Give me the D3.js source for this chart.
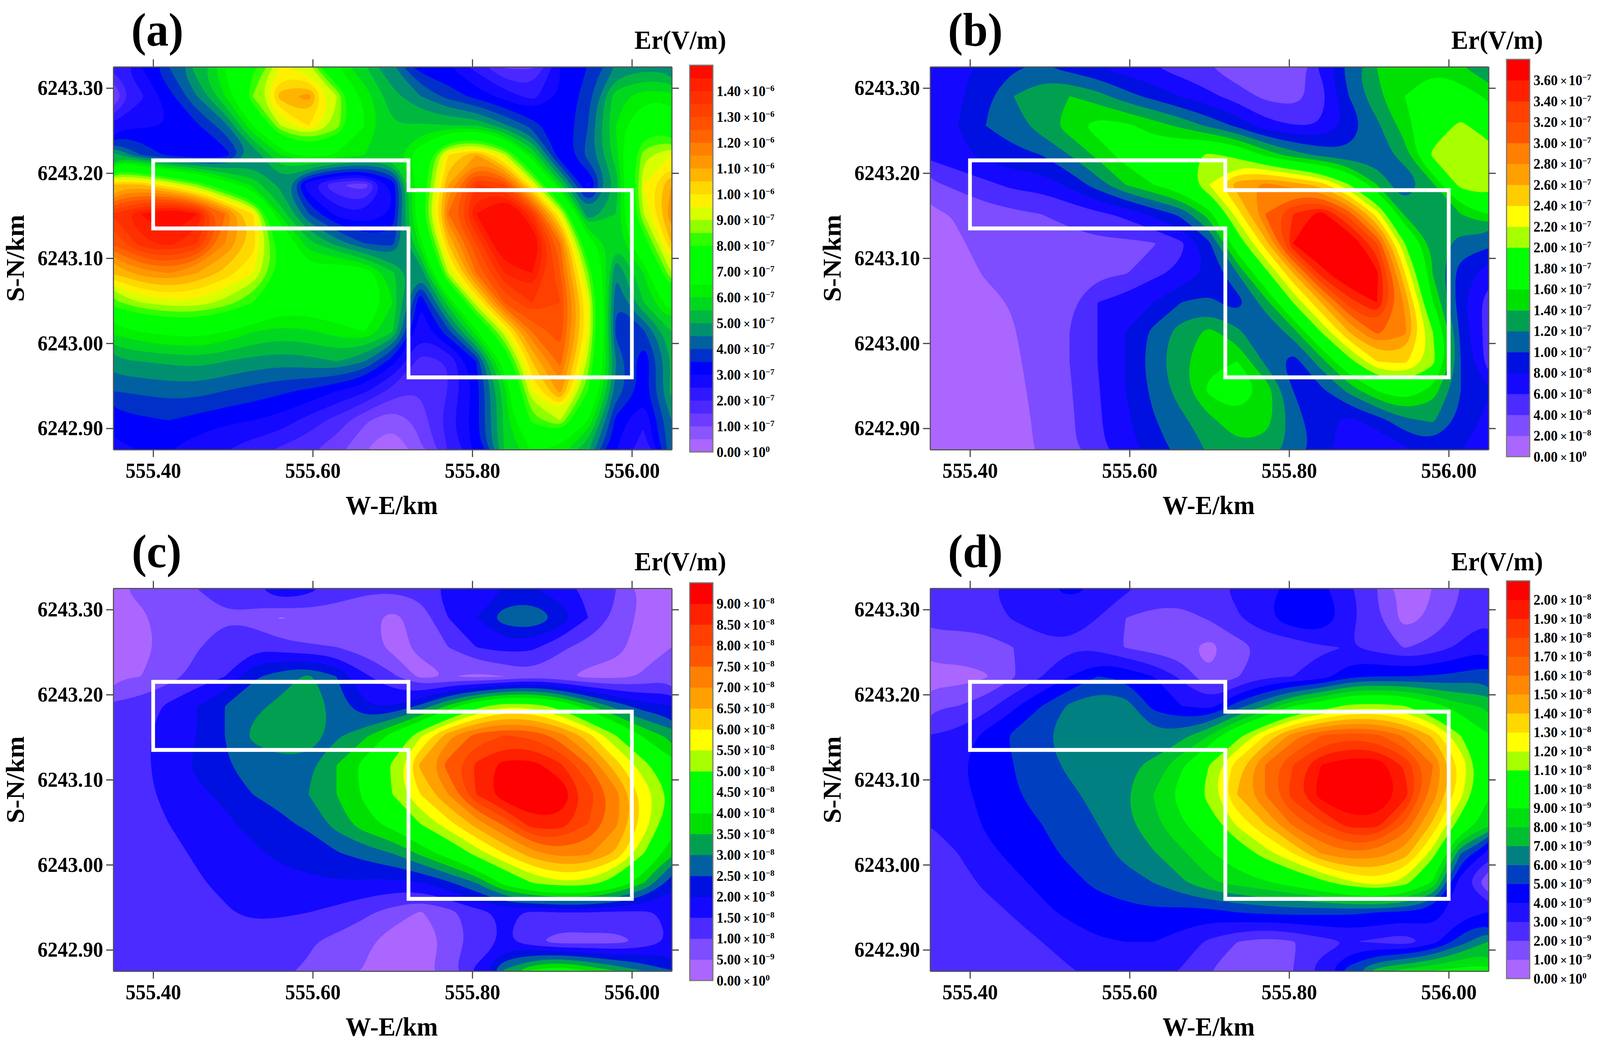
<!DOCTYPE html>
<html><head><meta charset="utf-8">
<script src="https://cdn.jsdelivr.net/npm/d3@7/dist/d3.min.js"></script>
<style>html,body{margin:0;padding:0;background:#fff;width:100%;height:100%;overflow:hidden}svg{display:block;width:100vw;height:100vh}text{font-family:"Liberation Serif","Times New Roman",serif;font-weight:bold;fill:#000}</style>
</head><body><svg id="c" viewBox="0 0 4280 2670" preserveAspectRatio="none"></svg>
<script>
const xTicks=[555.4,555.6,555.8,556.0];
const yTicks=[6242.9,6243.0,6243.1,6243.2,6243.3];
const outline=[[555.40,6243.215],[555.72,6243.215],[555.72,6243.18],[556.00,6243.18],[556.00,6242.96],[555.72,6242.96],[555.72,6243.135],[555.40,6243.135]];

// Field values: rows top to bottom, columns left to right
const gridA=[ // x 1e-7 V/m
[2.1,3.0,4.0,5.3,6.5,7.8,9.5,9.0,6.5,5.5,4.5,3.2,3.0,2.3,1.4,1.4,3.0,3.5,4.5,4.8,4.7],
[1.0,2.4,3.3,4.5,6.0,8.5,10.8,11.2,9.0,6.3,5.2,4.5,3.8,3.3,2.8,2.3,3.0,3.8,5.8,6.3,6.2],
[2.6,2.9,3.0,3.4,4.3,6.5,9.0,10.0,8.8,6.5,5.5,5.6,5.5,5.5,4.6,3.8,3.0,4.0,6.0,7.5,7.5],
[5.2,4.0,3.3,3.0,3.2,4.5,6.0,6.8,6.4,6.0,5.8,7.0,10.0,11.0,9.2,6.0,3.0,4.2,5.8,8.8,9.5],
[10.5,10.5,9.5,8.5,7.0,5.8,4.8,2.5,1.5,1.2,3.0,7.0,11.0,13.5,13.0,9.5,5.7,2.8,5.0,9.5,11.0],
[13.5,14.5,15.5,14.5,12.0,10.0,5.8,4.0,2.8,2.5,3.0,7.5,12.0,14.5,16.5,13.5,9.5,4.5,5.5,9.0,11.5],
[12.5,13.8,14.2,13.5,11.5,10.3,7.5,5.7,4.8,4.0,3.8,6.2,10.5,13.0,15.5,15.5,12.0,7.0,5.5,7.5,10.5],
[10.5,11.2,11.5,11.0,10.3,9.5,7.8,6.8,7.3,7.0,5.6,4.5,9.0,12.0,14.0,14.5,12.5,8.5,4.5,6.0,9.0],
[8.3,9.0,9.3,9.3,8.8,8.0,7.0,7.0,7.2,7.6,6.0,3.0,5.8,9.3,12.5,13.5,13.0,9.5,4.0,5.5,7.0],
[6.1,6.5,6.7,6.8,6.5,6.0,5.8,5.9,6.2,6.5,5.5,2.6,3.8,6.3,9.2,12.0,12.8,9.5,3.8,3.9,5.5],
[4.9,5.0,5.1,5.2,5.0,4.8,4.7,4.8,5.0,4.5,3.2,1.8,2.0,3.5,7.0,10.5,12.2,8.8,4.5,3.0,5.0],
[4.0,4.1,4.2,4.2,4.0,3.8,3.6,3.4,3.0,2.6,1.8,1.5,2.0,3.2,5.7,9.5,11.2,8.0,4.3,3.3,5.2],
[3.2,3.4,3.5,3.3,3.1,3.0,2.8,2.3,1.8,1.1,0.6,1.2,2.3,3.3,5.6,8.2,9.0,6.5,3.3,2.5,4.5],
[2.9,3.0,3.0,2.7,2.5,2.2,1.9,1.6,1.2,0.5,0.0,0.9,2.0,3.2,5.5,6.5,6.3,5.0,3.0,2.3,4.4]];
const gridB=[ // x 1e-8 V/m
[7,7.5,8.5,9.7,10.2,9,8,6.8,6,5,4,2.5,2,2.5,6.5,11,14,15.5,15.5,14,12.5],
[7,7.6,9.5,12,13.8,14,12.8,10.8,9.3,7.8,6.5,5,3.5,3,5,10,13.5,16,18,17.5,15.5],
[7.5,8,10,11,13,15,17,16.5,15,13.5,11.5,9.5,6.8,6,6,8.5,11.5,15,18.5,20.5,18.5],
[6.5,7.5,8.5,9.5,10,12,14.5,17,18,19,20.5,19,15.5,13,11.5,10.5,10.7,13,20.5,22,21.5],
[3.5,4.5,5.5,6.5,6.8,8.5,11,14,16,18,22,27,28.5,27,25,20,14,10,13.5,21,22],
[1.5,2.2,3,3.5,4,4.5,5.5,6.5,8.5,10.5,15,23,30,34,37,31,23,13.5,13,14,16],
[1,1.8,2.5,3,3.2,3.4,3.5,3.5,3.8,5.5,9.5,18,25,36,39,39,32,20,13.5,11,10.5],
[0.8,1.2,2.2,3,3.3,3.5,3.5,3.8,5.5,6.5,8.3,12,19,26,35,39,36.5,24,13.8,9,7],
[0.8,1.1,1.4,2.2,2.8,3.5,6,7,8,10,10.5,9,13,20,26,33,36,27.5,16,8.5,5],
[0.8,1.1,1.4,1.9,3,4,6,8,10.5,13,14.5,12.5,10,13,20,26,30.5,28.5,20,9.5,5],
[0.8,1.1,1.3,1.6,3,4,6,8,11,13.5,15.5,16,11.5,9,13,19,24,24.5,21,10,5],
[0.8,1,1.2,1.5,2.6,3.8,5.8,8,10.5,13,16.5,18,15.5,10,9.5,12.5,16,18,15,10,8],
[0.8,1,1.2,1.5,2.3,3.6,5.7,7.5,9.8,11.5,13.5,15.2,15,11,8.5,7.5,9,11.5,12.3,9.5,7.5],
[0.8,1,1.2,1.5,2.2,3.5,5.5,7.2,9,10.8,12.2,13.5,13,11.5,9,7,6,7.5,9,8,6.5]];
const gridC=[ // x 1e-9 V/m
[4,6.5,8,10,12,14,21,17,12,11,11,12,17,18,20,20,17,14,10,4,3.5],
[3,4,7.5,9,9.5,8,4.5,6.5,8,6.5,3.5,7,15,20,28,30,24,15,9,3,3],
[2,3.5,6.5,9.5,13,14,12,10.5,10,7.5,3.5,6,10,15,17,16,11,8,6,3.5,5],
[4,5,8,12,15,24,28,31,25,16,11,3.5,5,3.5,4.8,8,6,3.5,3.5,5.5,8.5],
[11,12.5,16,20,25,29,31,34,28,20,20,26,36,47,54,53,47,36,28,22,20],
[13,14,17,20,25,31,33,31.5,29,34,42,54,68,77,80,79,72,62,50,39,33],
[13,14,17,21,24.5,27.5,28.5,29,35,42,51,66,77,86,92,92,86,75,62,52,42],
[12.5,14,16,19,21,25,26.5,30,35,41,50,60,70,85,94,95,95,83,72,58,49],
[12,13,15,17,19,21.5,24,26,32,38,42,50,58,67,76,88,88,80,71,58,44],
[12,12.5,14,15.5,17,19,21,22,24.5,27,30,36,43,52,60,68,72,71,64,50,35],
[11.5,11.5,12.5,14.5,16,17.5,18.5,19,19.5,19,18.5,19.5,24,30,42,50,54,53,46,35,22],
[11,11,11.5,12,14.5,16,15.8,15,13.5,11,8,4.5,8,13,16,14,15,15,14,14,16],
[11,11,11,11,11.5,12,11.5,10.5,8.5,6.5,2,1.5,6,12,15.5,11,7,8,8,11,15.5],
[11,11,11,11,11,11,10.5,9.5,8,4.5,1,3,9,16,31,41,46,40,35,30,25]];
const gridD=[ // x 1e-9 V/m
[2.7,2.7,2.9,3.3,3.8,4.3,3.9,3.2,2.6,2.5,2.7,3.2,3.6,4.5,4.3,3.2,2,0.6,1,2,2.8],
[2.2,2.3,2.6,3.1,3.4,3.3,3,2,1.7,1.7,2.1,2.9,3.8,4.9,4.9,3.5,2.1,0.5,1.2,2.3,2.9],
[1.7,1.6,1.5,2,2.7,2.9,2.7,1.9,1.5,1.3,0.6,1.6,2.2,2.2,2.9,3,2.6,1.9,2.4,3.2,3.8],
[0.5,0.5,0.9,1.9,3,4,5,4.8,4,2.8,1.1,1.9,2.8,3,3.4,4.8,5,5,5.1,5.3,5.6],
[1.8,2,2.6,3.8,5,6.2,6.8,6.5,4.7,4,3.5,5.5,7,9,10,11.3,11.5,11,9.5,8.3,7.8],
[3,3.3,4.3,5.2,5.8,6.6,6.7,6.6,6.3,6.6,8,10.5,13,15.5,17,17.5,17.2,15.8,13.8,11,9],
[3.7,3.9,4.3,5,5.6,6.2,6.5,6.8,7.2,8.8,11,13.5,16,18,20,20.8,20.8,18.8,16,12.8,9.5],
[3.4,3.8,4.2,4.9,5.4,5.8,6.3,6.9,8,9.5,11.5,14,16,18.5,20.5,21.3,21.3,19.5,15.5,12.3,9],
[3,3.5,4.1,4.6,5,5.5,6,6.7,7.8,8.8,10.2,12.2,14,16.2,17.8,19.5,19.5,16.8,13.8,10.3,8.2],
[2.4,3,3.8,4.2,4.7,5.2,5.7,6.2,6.9,7.8,8.8,10,11.5,13,15,15.8,15.5,14.5,11.5,6,3.5],
[2,2.6,3.2,3.8,4.2,4.7,5.2,5.7,6,6.8,7.8,8.3,8.8,9.5,10.5,11.7,12.5,11.5,8.8,3.2,1.2],
[2,2.3,2.6,3.1,3.8,4.2,4.5,4.6,4.8,4.6,4.6,5,5.2,5.3,5.2,5.2,5,4.8,4.4,3.5,4],
[2,2.2,2.3,2.6,3,3.5,3.9,4,4,3.6,2.8,2,1.5,1.9,2.6,3,2.8,2.3,3.5,5.5,7],
[2,2.1,2.2,2.3,2.4,2.9,3.3,3.7,3.6,2.9,2,1.6,1.5,2,3.5,5.5,7.5,8.5,9,9.5,9.5]];

// Colour bands, bottom to top
const bandsA=["#AA66FF","#8A55FF","#6B3CFF","#4A28FF","#2E18FF","#1408FF","#0000FF","#0030C8","#0060A0","#009070","#00B840","#00D820","#00F000","#00FF00","#00FF00","#00FF00","#30FF00","#90FF00","#D8FF00","#FFF000","#FFD800","#FFB400","#FF9800","#FF8000","#FF6400","#FF5000","#FF4000","#FF3000","#FF2000","#FF0C00"];
const bandsB=["#AB66FF","#7D4DFF","#4B2BFF","#1508FF","#0010E0","#0060A0","#00A050","#00E000","#00FF00","#00FF00","#A8FF00","#FFFF00","#FFCC00","#FFA000","#FF8000","#FF5500","#FF4000","#FF2000","#FF0000"];
const bandsC=bandsB;
const bandsD=["#AB66FF","#7D4DFF","#4B2BFF","#2010FF","#0000FF","#0040C0","#008080","#00C030","#00E010","#00FF00","#00FF00","#A8FF00","#FFFF00","#FFD800","#FFA800","#FF8800","#FF6800","#FF5000","#FF3800","#FF1800","#FF0000"];

// Colour-bar tick labels: value (in grid units), mantissa, exponent
const ticksA=[[0,"0.00","0"],[1,"1.00","−7"],[2,"2.00","−7"],[3,"3.00","−7"],[4,"4.00","−7"],[5,"5.00","−7"],[6,"6.00","−7"],[7,"7.00","−7"],[8,"8.00","−7"],[9,"9.00","−7"],[10,"1.00","−6"],[11,"1.10","−6"],[12,"1.20","−6"],[13,"1.30","−6"],[14,"1.40","−6"]];
const ticksB=[[0,"0.00","0"],[2,"2.00","−8"],[4,"4.00","−8"],[6,"6.00","−8"],[8,"8.00","−8"],[10,"1.00","−7"],[12,"1.20","−7"],[14,"1.40","−7"],[16,"1.60","−7"],[18,"1.80","−7"],[20,"2.00","−7"],[22,"2.20","−7"],[24,"2.40","−7"],[26,"2.60","−7"],[28,"2.80","−7"],[30,"3.00","−7"],[32,"3.20","−7"],[34,"3.40","−7"],[36,"3.60","−7"]];
const ticksC=[[0,"0.00","0"],[5,"5.00","−9"],[10,"1.00","−8"],[15,"1.50","−8"],[20,"2.00","−8"],[25,"2.50","−8"],[30,"3.00","−8"],[35,"3.50","−8"],[40,"4.00","−8"],[45,"4.50","−8"],[50,"5.00","−8"],[55,"5.50","−8"],[60,"6.00","−8"],[65,"6.50","−8"],[70,"7.00","−8"],[75,"7.50","−8"],[80,"8.00","−8"],[85,"8.50","−8"],[90,"9.00","−8"]];
const ticksD=[[0,"0.00","0"],[1,"1.00","−9"],[2,"2.00","−9"],[3,"3.00","−9"],[4,"4.00","−9"],[5,"5.00","−9"],[6,"6.00","−9"],[7,"7.00","−9"],[8,"8.00","−9"],[9,"9.00","−9"],[10,"1.00","−8"],[11,"1.10","−8"],[12,"1.20","−8"],[13,"1.30","−8"],[14,"1.40","−8"],[15,"1.50","−8"],[16,"1.60","−8"],[17,"1.70","−8"],[18,"1.80","−8"],[19,"1.90","−8"],[20,"2.00","−8"]];

const svg=d3.select("#c");
const panels=[
 {id:"a",grid:gridA,bands:bandsA,step:0.5,ticks:ticksA,dx:0,dy:0,barTop:167,barBot:1157,letterX:421},
 {id:"b",grid:gridB,bands:bandsB,step:2,ticks:ticksB,dx:2185,dy:0,barTop:152,barBot:1169,letterX:2609},
 {id:"c",grid:gridC,bands:bandsC,step:5,ticks:ticksC,dx:0,dy:1335,barTop:1492,barBot:2510,letterX:419},
 {id:"d",grid:gridD,bands:bandsD,step:1,ticks:ticksD,dx:2185,dy:1335,barTop:1487,barBot:2505,letterX:2609}
];
const ringPath=d3.line().curve(d3.curveBasisClosed);

panels.forEach(p=>{
  const L=303+p.dx,R=1797+p.dx,T=171+p.dy,B=1151+p.dy;
  const x=d3.scaleLinear().domain([555.35,556.05]).range([L,R]);
  const y=d3.scaleLinear().domain([6242.875,6243.325]).range([B,T]);
  const g=svg.append("g");
  const clipId="clip-"+p.id;
  g.append("clipPath").attr("id",clipId).append("rect").attr("x",L).attr("y",T).attr("width",R-L).attr("height",B-T);
  const ny=p.grid.length,nx=p.grid[0].length;
  const gx=d3.scaleLinear().domain([0.5,nx-0.5]).range([L,R]);
  const gy=d3.scaleLinear().domain([0.5,ny-0.5]).range([T,B]);
  const thresholds=p.bands.map((_,i)=>i*p.step);
  const contours=d3.contours().size([nx,ny]).smooth(true).thresholds(thresholds)(p.grid.flat());
  const field=g.append("g").attr("clip-path",`url(#${clipId})`);
  field.append("rect").attr("x",L).attr("y",T).attr("width",R-L).attr("height",B-T).attr("fill",p.bands[0]);
  contours.forEach((c,i)=>{
    const d=c.coordinates.map(poly=>poly.map(ring=>ringPath(ring.slice(0,-1).map(q=>[gx(q[0]),gy(q[1])]))).join("")).join("");
    if(d) field.append("path").attr("d",d).attr("fill",p.bands[i]).attr("fill-rule","evenodd").attr("stroke",p.bands[i]).attr("stroke-width",1);
  });
  // Axes
  const styleAxis=a=>{a.selectAll("path.domain").attr("stroke","#555").attr("stroke-width",3);a.selectAll("line").attr("stroke","#444").attr("stroke-width",3);a.selectAll("text").attr("font-family",null).attr("font-size",54);a.attr("font-family",null).attr("font-size",null);};
  const fx=d3.format(".2f");
  g.append("g").attr("transform",`translate(0,${B})`).call(d3.axisBottom(x).tickValues(xTicks).tickSize(19).tickPadding(15).tickSizeOuter(0).tickFormat(fx)).call(styleAxis);
  g.append("g").attr("transform",`translate(0,${T})`).call(d3.axisTop(x).tickValues(xTicks).tickSize(19).tickSizeOuter(0).tickFormat("")).call(styleAxis);
  g.append("g").attr("transform",`translate(${L},0)`).call(d3.axisLeft(y).tickValues(yTicks).tickSize(19).tickPadding(8).tickSizeOuter(0).tickFormat(fx)).call(styleAxis);
  g.append("g").attr("transform",`translate(${R},0)`).call(d3.axisRight(y).tickValues(yTicks).tickSize(19).tickSizeOuter(0).tickFormat("")).call(styleAxis);
  // Survey outline
  g.append("path").attr("d",d3.line().x(d=>x(d[0])).y(d=>y(d[1])).curve(d3.curveLinearClosed)(outline)).attr("fill","none").attr("stroke","#fff").attr("stroke-width",10).attr("stroke-linejoin","miter");
  // Titles
  g.append("text").attr("x",1048+p.dx).attr("y",1316+p.dy).attr("text-anchor","middle").attr("font-size",68).text("W-E/km");
  g.append("text").attr("transform",`translate(${64+p.dx},${661+p.dy}) rotate(-90)`).attr("text-anchor","middle").attr("font-size",68).text("S-N/km");
  g.append("text").attr("x",p.letterX).attr("y",117+p.dy).attr("text-anchor","middle").attr("font-size",120).text(`(${p.id})`);
  g.append("text").attr("x",1820+p.dx).attr("y",125+p.dy).attr("text-anchor","middle").attr("font-size",68).text("Er(V/m)");
  // Colour bar
  const bx=1845+p.dx,bw=62;
  const by=d3.scaleLinear().domain([0,p.bands.length*p.step]).range([p.barBot,p.barTop]);
  const bar=g.append("g");
  bar.selectAll("rect").data(p.bands).join("rect").attr("x",bx).attr("width",bw)
    .attr("y",(d,i)=>by((i+1)*p.step)).attr("height",(d,i)=>by(i*p.step)-by((i+1)*p.step)+0.5).attr("fill",d=>d);
  g.append("rect").attr("x",bx).attr("y",p.barTop).attr("width",bw).attr("height",p.barBot-p.barTop).attr("fill","none").attr("stroke","#777").attr("stroke-width",3);
  const labels=g.append("g");
  p.ticks.forEach(t=>{
    const tx=labels.append("text").attr("x",bx+72).attr("y",by(t[0])).attr("dy","0.34em").attr("font-size",37);
    tx.append("tspan").text(t[1]);
    tx.append("tspan").attr("dx",7).attr("font-size",32).text("×");
    tx.append("tspan").attr("dx",4).text("10");
    tx.append("tspan").attr("dy",-13).attr("font-size",22).text(t[2]);
  });
});
</script></body></html>
